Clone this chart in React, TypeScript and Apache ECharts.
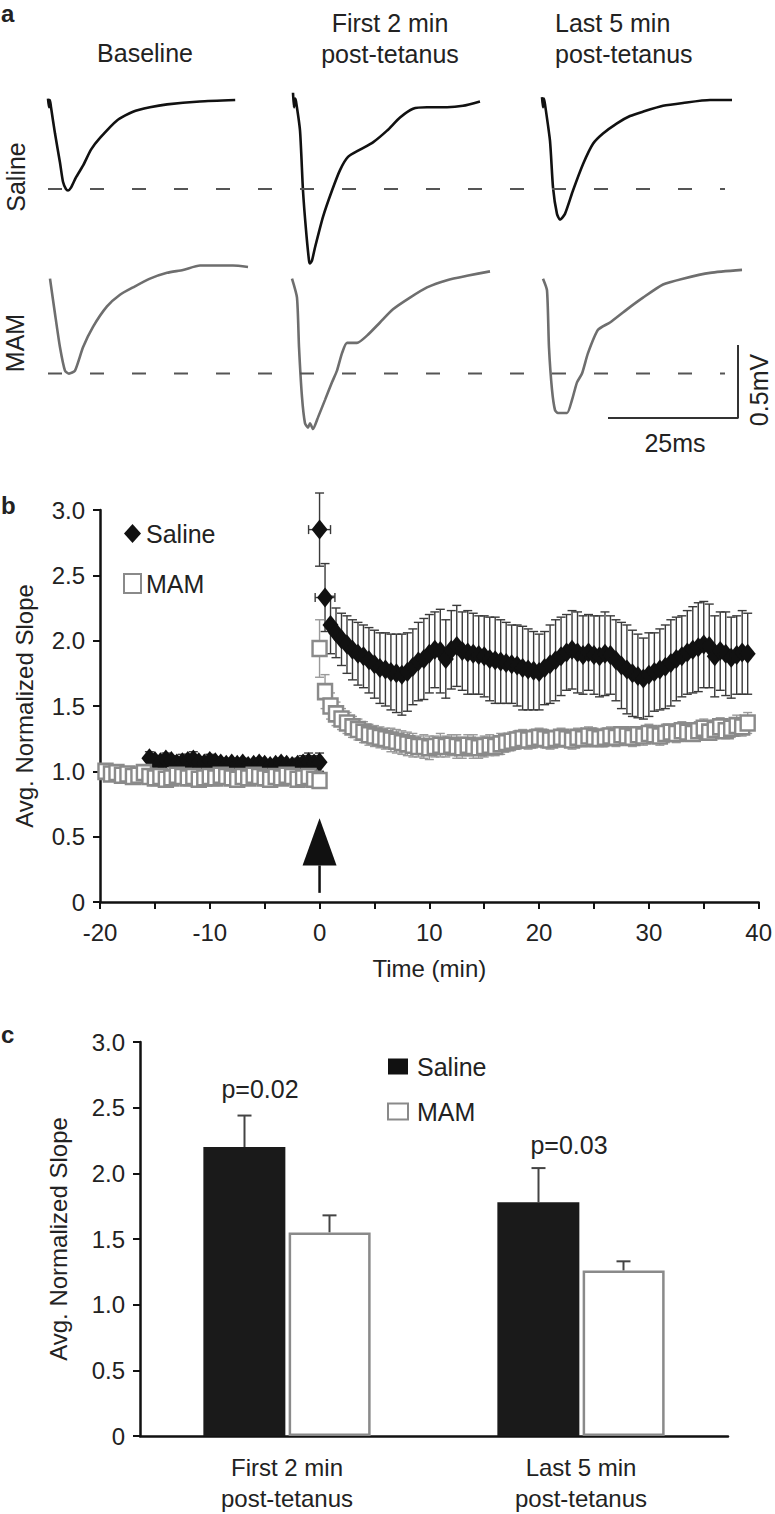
import React, { useEffect, useRef } from "react";
import * as echarts from "echarts";

// ---------------- Panel a: traces, [time (ms), potential (mV) relative to plateau] ----------------
const TRACE_SALINE_BASELINE = [[0,0.01],[0.19,-0.05],[0.38,0],[0.58,-0.05],[1.35,-0.23],[2.31,-0.43],[2.88,-0.56],[3.46,-0.61],[3.85,-0.62],[4.42,-0.6],[5.38,-0.53],[6.73,-0.45],[8.27,-0.34],[10,-0.26],[13.27,-0.14],[16.35,-0.08],[19.6,-0.05],[22.9,-0.03],[29.2,-0.01],[36,0]];
const TRACE_SALINE_FIRST2 = [[0,0.05],[0.19,-0.05],[0.38,0.01],[0.58,-0.01],[1.35,-0.21],[1.92,-0.62],[2.5,-0.89],[3.08,-1.1],[3.27,-1.12],[3.65,-1.1],[4.23,-1.01],[5.77,-0.8],[7.5,-0.62],[9.04,-0.48],[10.58,-0.39],[12.88,-0.34],[15.38,-0.29],[18.08,-0.21],[20.58,-0.12],[23.08,-0.06],[25.77,-0.05],[29.62,-0.05],[32.69,-0.04],[35.96,-0.01]];
const TRACE_SALINE_LAST5 = [[0,0.02],[0.19,-0.05],[0.38,0.01],[0.58,-0.03],[1.54,-0.28],[2.12,-0.6],[2.88,-0.78],[3.46,-0.82],[4.42,-0.78],[5.96,-0.62],[7.88,-0.44],[9.81,-0.3],[11.73,-0.23],[14.42,-0.16],[16.92,-0.11],[19.42,-0.08],[23.27,-0.04],[27.12,-0.02],[32.31,0],[36.54,0]];
const TRACE_MAM_BASELINE = [[0,-0.08],[0.96,-0.32],[1.92,-0.55],[2.88,-0.71],[3.65,-0.73],[4.81,-0.71],[6.35,-0.55],[8.27,-0.41],[10.96,-0.27],[13.46,-0.19],[15.96,-0.14],[19.23,-0.08],[22.5,-0.04],[25.58,-0.02],[28.85,0.01],[35.19,0.01],[38.08,0]];
const TRACE_MAM_FIRST2 = [[0,-0.08],[0.96,-0.21],[1.35,-0.55],[1.92,-0.89],[2.5,-1.07],[3.08,-1.1],[3.46,-1.07],[4.04,-1.11],[5,-1.03],[6.35,-0.91],[7.69,-0.79],[8.65,-0.71],[9.62,-0.59],[10.58,-0.52],[12.5,-0.52],[14.42,-0.47],[16.92,-0.38],[19.42,-0.29],[22.69,-0.21],[25.96,-0.14],[29.81,-0.09],[33.65,-0.06],[38.08,-0.03]];
const TRACE_MAM_LAST5 = [[0,-0.08],[0.77,-0.16],[1.15,-0.55],[1.73,-0.84],[2.31,-0.98],[2.88,-1],[4.62,-1],[5.58,-0.91],[6.54,-0.79],[7.5,-0.73],[8.65,-0.59],[10.58,-0.43],[12.88,-0.38],[16.15,-0.29],[19.23,-0.21],[23.08,-0.12],[26.92,-0.08],[32.12,-0.04],[38.27,-0.02]];
const SALINE_BASELINE_PEAK_MV = -0.61;
const MAM_BASELINE_PEAK_MV = -0.73;
const SCALE_BAR_MS = 25;
const SCALE_BAR_MV = 0.5;

// ---------------- Panel b: time course ----------------
const SAMPLE_STEP_MIN = 0.5;
const SALINE_BASE_START = -15.5;
const MAM_BASE_START = -19.5;
const POST_START = 0;
const SALINE_BASE = [1.10,1.08,1.07,1.09,1.08,1.06,1.07,1.08,1.09,1.07,1.06,1.08,1.07,1.06,1.05,1.06,1.05,1.06,1.04,1.05,1.06,1.05,1.04,1.05,1.06,1.05,1.04,1.05,1.06,1.07,1.06,1.07];
const SALINE_BASE_ERR = [0.05,0.04,0.04,0.05,0.04,0.04,0.06,0.05,0.06,0.04,0.04,0.05,0.04,0.04,0.03,0.04,0.03,0.04,0.03,0.04,0.04,0.03,0.03,0.04,0.04,0.03,0.04,0.05,0.06,0.07,0.06,0.07];
const MAM_BASE = [1.00,0.98,0.99,0.97,0.98,0.96,0.97,0.99,0.96,0.95,0.96,0.94,0.95,0.97,0.96,0.95,0.96,0.94,0.95,0.96,0.95,0.97,0.96,0.95,0.94,0.96,0.95,0.97,0.96,0.95,0.94,0.96,0.95,0.97,0.96,0.94,0.95,0.96,0.94,0.93];
const MAM_BASE_ERR = [0.05,0.05,0.06,0.05,0.05,0.05,0.06,0.05,0.05,0.06,0.05,0.06,0.05,0.05,0.05,0.06,0.05,0.05,0.05,0.05,0.06,0.05,0.05,0.05,0.06,0.05,0.05,0.05,0.05,0.06,0.05,0.05,0.05,0.06,0.05,0.05,0.05,0.05,0.06,0.06];
const SALINE_POST = [
  2.85,2.33,2.12,2.06,2.01,1.97,1.93,1.90,1.88,1.85,
  1.82,1.79,1.78,1.76,1.75,1.74,1.76,1.80,1.84,1.86,
  1.90,1.93,1.92,1.86,1.93,1.96,1.92,1.91,1.90,1.89,
  1.88,1.86,1.85,1.84,1.83,1.82,1.81,1.79,1.78,1.77,
  1.76,1.79,1.82,1.85,1.88,1.91,1.93,1.91,1.89,1.91,
  1.89,1.88,1.90,1.89,1.85,1.81,1.78,1.75,1.73,1.71,
  1.74,1.76,1.78,1.80,1.83,1.86,1.88,1.91,1.93,1.95,
  1.97,1.96,1.88,1.92,1.90,1.87,1.89,1.91,1.90];
const SALINE_POST_ERR = [
  0.28,0.26,0.22,0.19,0.20,0.22,0.23,0.24,0.24,0.25,
  0.26,0.27,0.28,0.29,0.30,0.31,0.30,0.29,0.30,0.31,
  0.30,0.29,0.32,0.30,0.30,0.31,0.30,0.32,0.31,0.30,
  0.31,0.32,0.33,0.32,0.31,0.30,0.31,0.32,0.31,0.30,
  0.29,0.28,0.30,0.31,0.30,0.29,0.30,0.31,0.30,0.29,
  0.30,0.31,0.32,0.30,0.31,0.33,0.34,0.33,0.32,0.31,
  0.32,0.30,0.31,0.32,0.33,0.32,0.31,0.32,0.33,0.34,
  0.33,0.32,0.31,0.30,0.32,0.31,0.30,0.32,0.31];
// horizontal (time) error of the first two post-tetanus saline points
const SALINE_POST_TIME_ERR = [1.0, 0.9];
const MAM_POST = [
  1.94,1.61,1.50,1.44,1.40,1.37,1.34,1.32,1.30,1.28,
  1.27,1.26,1.25,1.24,1.23,1.22,1.21,1.20,1.19,1.19,
  1.18,1.19,1.20,1.19,1.20,1.19,1.18,1.20,1.19,1.18,
  1.19,1.20,1.19,1.21,1.22,1.23,1.24,1.25,1.24,1.25,
  1.26,1.25,1.24,1.25,1.26,1.25,1.24,1.26,1.25,1.27,
  1.26,1.25,1.26,1.27,1.26,1.28,1.27,1.26,1.28,1.27,
  1.29,1.28,1.27,1.29,1.30,1.29,1.31,1.30,1.29,1.31,
  1.33,1.30,1.32,1.34,1.31,1.33,1.35,1.34,1.37];
const MAM_POST_ERR = [
  0.22,0.13,0.10,0.09,0.08,0.08,0.08,0.08,0.08,0.08,
  0.08,0.08,0.08,0.09,0.09,0.09,0.09,0.09,0.08,0.09,
  0.09,0.08,0.09,0.08,0.08,0.09,0.08,0.08,0.09,0.08,
  0.08,0.08,0.07,0.08,0.07,0.07,0.07,0.07,0.07,0.07,
  0.07,0.07,0.07,0.06,0.07,0.06,0.07,0.07,0.06,0.07,
  0.07,0.06,0.07,0.07,0.07,0.06,0.07,0.07,0.06,0.07,
  0.07,0.06,0.07,0.07,0.06,0.07,0.07,0.07,0.06,0.07,
  0.07,0.06,0.07,0.07,0.06,0.07,0.08,0.07,0.08];
const TETANUS_ARROW = [[0, 0.64, 0.28, 0.07]]; // time, tip, head base, stem foot

// ---------------- Panel c: bar summary ----------------
const BAR_CATEGORIES = ["First 2 min\npost-tetanus", "Last 5 min\npost-tetanus"];
const SALINE_BAR = [2.2, 1.78];
const SALINE_BAR_ERR = [0.24, 0.26];
const MAM_BAR = [1.55, 1.26];
const MAM_BAR_ERR = [0.13, 0.07];
const P_VALUES = ["p=0.02", "p=0.03"];

// ---------------- layout / style ----------------
const FONT = "'Liberation Sans', Arial, Helvetica, sans-serif";
const TXT = "#222";
const BLACK = "#111";
const GRAY = "#8a8a8a";
const TRACE_GRAY = "#6e6e6e";
const PX_PER_MS = 5.2;
const PX_PER_MV = 146;
const A_H = 470;
const SALINE_ROW_Y = 100;
const MAM_ROW_Y = 267;

const place = (xPx: number, yPx: number, trace: number[][]) =>
  trace.map(([ms, mv]) => [xPx / PX_PER_MS + ms, -yPx / PX_PER_MV + mv]);

const withTimes = (t0: number, vals: number[]) =>
  vals.map((v, i) => [t0 + i * SAMPLE_STEP_MIN, v]);
const withErr = (t0: number, vals: number[], errs: number[]) =>
  vals.map((v, i) => [t0 + i * SAMPLE_STEP_MIN, v - errs[i], v + errs[i]]);

function errorBarItem(color: string, cap: number, width: number) {
  return (params: any, api: any) => {
    const t = api.value(0);
    const lo = api.coord([t, api.value(1)]);
    const hi = api.coord([t, api.value(2)]);
    const style = { stroke: color, lineWidth: width };
    return {
      type: "group",
      children: [
        { type: "line", shape: { x1: lo[0], y1: lo[1], x2: hi[0], y2: hi[1] }, style },
        { type: "line", shape: { x1: hi[0] - cap, y1: hi[1], x2: hi[0] + cap, y2: hi[1] }, style },
        { type: "line", shape: { x1: lo[0] - cap, y1: lo[1], x2: lo[0] + cap, y2: lo[1] }, style },
      ],
    };
  };
}

function timeErrorItem(color: string, cap: number, width: number) {
  return (params: any, api: any) => {
    const v = api.value(2);
    const a = api.coord([api.value(0), v]);
    const b = api.coord([api.value(1), v]);
    const style = { stroke: color, lineWidth: width };
    return {
      type: "group",
      children: [
        { type: "line", shape: { x1: a[0], y1: a[1], x2: b[0], y2: b[1] }, style },
        { type: "line", shape: { x1: a[0], y1: a[1] - cap, x2: a[0], y2: a[1] + cap }, style },
        { type: "line", shape: { x1: b[0], y1: b[1] - cap, x2: b[0], y2: b[1] + cap }, style },
      ],
    };
  };
}

function barErrorItem(offset: number, color: string) {
  return (params: any, api: any) => {
    const c = api.value(0);
    const v = api.value(1);
    const e = api.value(2);
    const b = api.coord([c, v]);
    const t = api.coord([c, v + e]);
    const x = b[0] + offset;
    const style = { stroke: color, lineWidth: 2 };
    return {
      type: "group",
      children: [
        { type: "line", shape: { x1: x, y1: b[1], x2: x, y2: t[1] }, style },
        { type: "line", shape: { x1: x - 7, y1: t[1], x2: x + 7, y2: t[1] }, style },
      ],
    };
  };
}

const txt = (text: string, x: number, y: number, extra: any = {}) => ({
  type: "text",
  x,
  y,
  rotation: extra.rotation || 0,
  style: {
    text,
    fill: TXT,
    font: `${extra.weight || "normal"} ${extra.size || 25}px ${FONT}`,
    align: extra.align || "center",
    verticalAlign: "middle",
  },
});

export default function App() {
  const ref = useRef<HTMLDivElement>(null);
  useEffect(() => {
    if (!ref.current) return;
    const chart = echarts.init(ref.current, null, { renderer: "svg" });

    const traceSeries = (data: number[][], color: string) => ({
      type: "line",
      xAxisIndex: 0,
      yAxisIndex: 0,
      data,
      symbol: "none",
      smooth: 0.2,
      lineStyle: { color, width: 2.6 },
      silent: true,
    });
    const dashed = (yRowPx: number, mv: number) => ({
      type: "line",
      xAxisIndex: 0,
      yAxisIndex: 0,
      data: [
        [48 / PX_PER_MS, -yRowPx / PX_PER_MV + mv],
        [725 / PX_PER_MS, -yRowPx / PX_PER_MV + mv],
      ],
      symbol: "none",
      lineStyle: { color: "#555", width: 2, type: [14, 28] },
      silent: true,
    });
    const sbX = 738 / PX_PER_MS;
    const sbY = -418 / PX_PER_MV;

    const axisLine = { onZero: false, lineStyle: { color: BLACK, width: 2.5 } };
    const axisTick = { inside: false, length: 7, lineStyle: { color: BLACK, width: 2 } };
    const tickLabel = { color: TXT, fontSize: 24, fontFamily: FONT };
    const slopeFmt = (v: number) => (v === 0 ? "0" : v.toFixed(1));

    const option: any = {
      animation: false,
      backgroundColor: "#fff",
      textStyle: { fontFamily: FONT },
      grid: [
        { left: 0, top: 0, width: 775, height: A_H },
        { left: 100, top: 510, width: 660, height: 392 },
        { left: 140, top: 1042, width: 588, height: 396 },
      ],
      xAxis: [
        { gridIndex: 0, type: "value", min: 0, max: 775 / PX_PER_MS, show: false },
        {
          gridIndex: 1, type: "value", min: -20, max: 40, interval: 5,
          axisLine, axisTick, splitLine: { show: false },
          axisLabel: { ...tickLabel, margin: 18, formatter: (v: number) => (v % 10 === 0 ? String(v) : "") },
          name: "Time (min)", nameLocation: "middle", nameGap: 54,
          nameTextStyle: { color: TXT, fontSize: 24, fontFamily: FONT },
        },
        {
          gridIndex: 2, type: "category", data: BAR_CATEGORIES,
          axisLine, axisTick: { ...axisTick, alignWithLabel: false }, splitLine: { show: false },
          axisLabel: { ...tickLabel, margin: 16, lineHeight: 31 },
        },
      ],
      yAxis: [
        { gridIndex: 0, type: "value", min: -A_H / PX_PER_MV, max: 0, show: false },
        {
          gridIndex: 1, type: "value", min: 0, max: 3, interval: 0.5,
          axisLine: { show: true, ...axisLine }, axisTick: { show: true, ...axisTick }, splitLine: { show: false },
          axisLabel: { ...tickLabel, margin: 15, formatter: slopeFmt },
          name: "Avg. Normalized Slope", nameLocation: "middle", nameGap: 64,
          nameTextStyle: { color: TXT, fontSize: 24, fontFamily: FONT },
        },
        {
          gridIndex: 2, type: "value", min: 0, max: 3, interval: 0.5,
          axisLine: { show: true, ...axisLine }, axisTick: { show: true, ...axisTick }, splitLine: { show: false },
          axisLabel: { ...tickLabel, margin: 15, formatter: slopeFmt },
          name: "Avg. Normalized Slope", nameLocation: "middle", nameGap: 70,
          nameTextStyle: { color: TXT, fontSize: 24, fontFamily: FONT },
        },
      ],
      legend: [
        {
          orient: "vertical", left: 118, top: 516, itemGap: 25, itemWidth: 17, itemHeight: 19,
          textStyle: { color: TXT, fontSize: 25, fontFamily: FONT },
          selectedMode: false,
          data: [{ name: "Saline", icon: "diamond" }, { name: "MAM", icon: "rect" }],
        },
        {
          orient: "vertical", left: 382, top: 1049, itemGap: 20, itemWidth: 20, itemHeight: 16,
          textStyle: { color: TXT, fontSize: 25, fontFamily: FONT, padding: [0, 0, 0, 4] },
          selectedMode: false,
          data: [{ name: "Saline", icon: "rect" }, { name: "MAM", icon: "rect" }],
        },
      ],
      series: [
        // panel a
        traceSeries(place(48, SALINE_ROW_Y, TRACE_SALINE_BASELINE), BLACK),
        traceSeries(place(293, SALINE_ROW_Y, TRACE_SALINE_FIRST2), BLACK),
        traceSeries(place(542, SALINE_ROW_Y, TRACE_SALINE_LAST5), BLACK),
        traceSeries(place(50, MAM_ROW_Y, TRACE_MAM_BASELINE), TRACE_GRAY),
        traceSeries(place(292, MAM_ROW_Y, TRACE_MAM_FIRST2), TRACE_GRAY),
        traceSeries(place(543, MAM_ROW_Y, TRACE_MAM_LAST5), TRACE_GRAY),
        dashed(SALINE_ROW_Y, SALINE_BASELINE_PEAK_MV),
        dashed(MAM_ROW_Y, MAM_BASELINE_PEAK_MV),
        {
          type: "line", xAxisIndex: 0, yAxisIndex: 0, symbol: "none", silent: true,
          data: [[sbX - SCALE_BAR_MS, sbY], [sbX, sbY], [sbX, sbY + SCALE_BAR_MV]],
          lineStyle: { color: "#333", width: 2 },
        },
        // panel b
        {
          type: "custom", name: "Saline SEM", xAxisIndex: 1, yAxisIndex: 1,
          renderItem: errorBarItem("#3a3a3a", 4.5, 1.4),
          encode: { x: 0, y: [1, 2] },
          data: [...withErr(SALINE_BASE_START, SALINE_BASE, SALINE_BASE_ERR), ...withErr(POST_START, SALINE_POST, SALINE_POST_ERR)],
          silent: true,
        },
        {
          type: "custom", name: "Saline time err", xAxisIndex: 1, yAxisIndex: 1,
          renderItem: timeErrorItem("#3a3a3a", 4.5, 1.4),
          encode: { x: [0, 1], y: 2 },
          data: SALINE_POST_TIME_ERR.map((e, i) => {
            const t = POST_START + i * SAMPLE_STEP_MIN;
            return [t - e, t + e, SALINE_POST[i]];
          }),
          silent: true,
        },
        {
          type: "custom", name: "MAM SEM", xAxisIndex: 1, yAxisIndex: 1,
          renderItem: errorBarItem("#9a9a9a", 4.5, 1.4),
          encode: { x: 0, y: [1, 2] },
          data: [...withErr(MAM_BASE_START, MAM_BASE, MAM_BASE_ERR), ...withErr(POST_START, MAM_POST, MAM_POST_ERR)],
          silent: true,
        },
        {
          type: "scatter", name: "Saline", xAxisIndex: 1, yAxisIndex: 1,
          symbol: "diamond", symbolSize: [16, 20],
          itemStyle: { color: BLACK, opacity: 1 },
          data: [...withTimes(SALINE_BASE_START, SALINE_BASE), ...withTimes(POST_START, SALINE_POST)],
        },
        {
          type: "scatter", name: "MAM", xAxisIndex: 1, yAxisIndex: 1,
          symbol: "rect", symbolSize: [14, 15],
          itemStyle: { color: "#fff", borderColor: GRAY, borderWidth: 2.5, opacity: 1 },
          data: [...withTimes(MAM_BASE_START, MAM_BASE), ...withTimes(POST_START, MAM_POST)],
        },
        {
          type: "custom", name: "tetanus", xAxisIndex: 1, yAxisIndex: 1, silent: true,
          encode: { x: 0, y: [1, 2, 3] },
          data: TETANUS_ARROW,
          renderItem: (params: any, api: any) => {
            const t = api.value(0);
            const tip = api.coord([t, api.value(1)]);
            const base = api.coord([t, api.value(2)]);
            const foot = api.coord([t, api.value(3)]);
            return {
              type: "group",
              children: [
                { type: "line", shape: { x1: base[0], y1: base[1], x2: foot[0], y2: foot[1] }, style: { stroke: BLACK, lineWidth: 2.5 } },
                { type: "polygon", shape: { points: [tip, [base[0] - 17, base[1]], [base[0] + 17, base[1]]] }, style: { fill: BLACK } },
              ],
            };
          },
        },
        // panel c
        {
          type: "bar", name: "Saline", xAxisIndex: 2, yAxisIndex: 2,
          barWidth: 82, barGap: "4%",
          itemStyle: { color: "#1a1a1a" },
          data: SALINE_BAR,
        },
        {
          type: "bar", name: "MAM", xAxisIndex: 2, yAxisIndex: 2,
          barWidth: 82,
          itemStyle: { color: "#fff", borderColor: GRAY, borderWidth: 2.5 },
          data: MAM_BAR,
        },
        {
          type: "custom", name: "Saline bar SEM", xAxisIndex: 2, yAxisIndex: 2, silent: true,
          encode: { x: 0, y: 1 },
          data: SALINE_BAR.map((v, i) => [i, v, SALINE_BAR_ERR[i]]),
          renderItem: barErrorItem(-42.5, "#444"),
        },
        {
          type: "custom", name: "MAM bar SEM", xAxisIndex: 2, yAxisIndex: 2, silent: true,
          encode: { x: 0, y: 1 },
          data: MAM_BAR.map((v, i) => [i, v, MAM_BAR_ERR[i]]),
          renderItem: barErrorItem(42.5, "#444"),
        },
      ],
      graphic: [
        txt("a", 1, 13, { weight: "bold", size: 24, align: "left" }),
        txt("b", 1, 505, { weight: "bold", size: 24, align: "left" }),
        txt("c", 1, 1034, { weight: "bold", size: 24, align: "left" }),
        txt("Baseline", 145, 53),
        txt("First 2 min", 390, 23),
        txt("post-tetanus", 390, 54),
        txt("Last 5 min", 555, 23, { align: "left" }),
        txt("post-tetanus", 555, 54, { align: "left" }),
        txt("Saline", 16, 177, { rotation: Math.PI / 2 }),
        txt("MAM", 15, 343, { rotation: Math.PI / 2 }),
        txt("0.5mV", 759, 390, { rotation: Math.PI / 2 }),
        txt("25ms", 675, 443),
        txt(P_VALUES[0], 260, 1089),
        txt(P_VALUES[1], 569, 1145),
      ],
    };
    chart.setOption(option);
    return () => chart.dispose();
  }, []);
  return (
    <div
      ref={ref}
      style={{ position: "absolute", left: 0, top: 0, width: 775, height: 1514, background: "#fff" }}
    />
  );
}
